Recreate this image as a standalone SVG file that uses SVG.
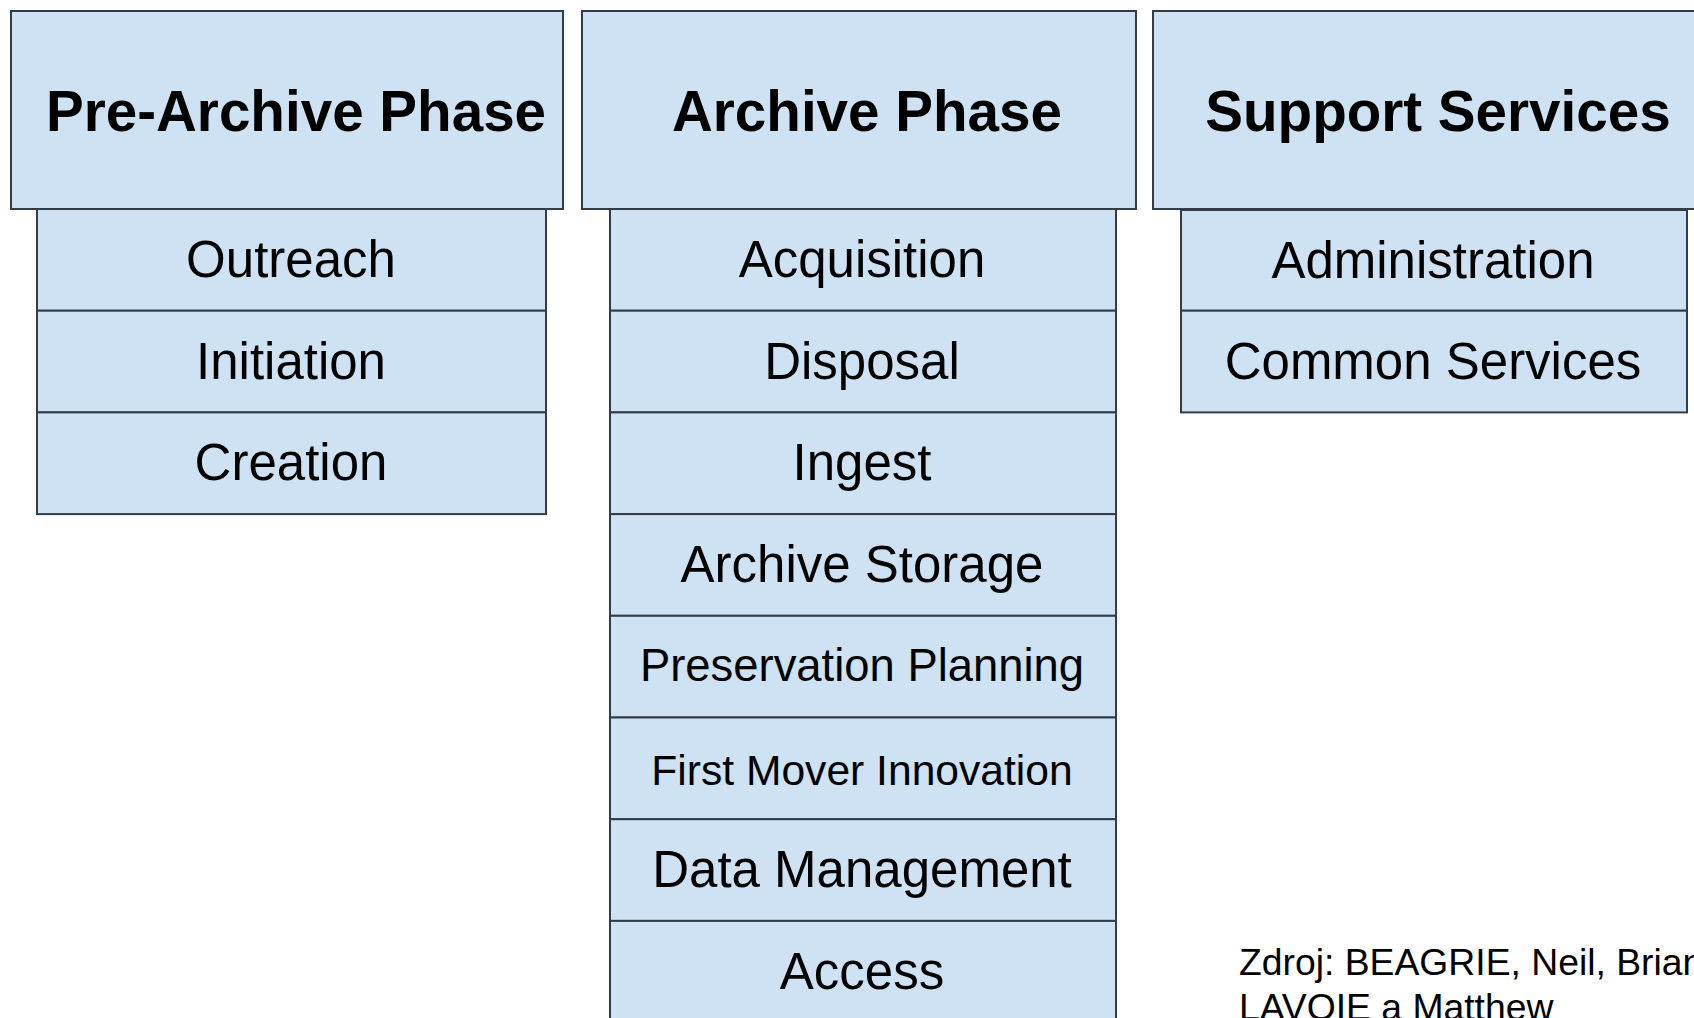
<svg xmlns="http://www.w3.org/2000/svg" width="1694" height="1018" viewBox="0 0 1694 1018">
<style>
.box{fill:#cfe2f3;stroke:#333d47;stroke-width:2}
.h{font-family:"Liberation Sans",Arial,sans-serif;font-weight:bold;font-size:56.6px;fill:#000;text-anchor:middle}
.t{font-family:"Liberation Sans",Arial,sans-serif;font-size:51px;fill:#000;text-anchor:middle}
.n{font-family:"Liberation Sans",Arial,sans-serif;font-size:37.3px;fill:#000}
</style>
<rect width="1694" height="1018" fill="#fff"/>
<g id="pre-archive">
<g id="pre-header"><rect class="box" x="11" y="11" width="552" height="198"/><text class="h" x="296" y="131">Pre-Archive Phase</text></g>
<g id="outreach"><rect class="box" x="37" y="209" width="509" height="101.7"/><text class="t" x="291" y="277">Outreach</text></g>
<g id="initiation"><rect class="box" x="37" y="310.7" width="509" height="101.7"/><text class="t" x="291" y="378.7">Initiation</text></g>
<g id="creation"><rect class="box" x="37" y="412.4" width="509" height="101.7"/><text class="t" x="291" y="480.4">Creation</text></g>
</g>
<g id="archive">
<g id="archive-header"><rect class="box" x="582" y="11" width="554" height="198"/><text class="h" x="867" y="131">Archive Phase</text></g>
<g id="acquisition"><rect class="box" x="610" y="209" width="506" height="101.7"/><text class="t" x="862" y="277">Acquisition</text></g>
<g id="disposal"><rect class="box" x="610" y="310.7" width="506" height="101.7"/><text class="t" x="862" y="378.7">Disposal</text></g>
<g id="ingest"><rect class="box" x="610" y="412.4" width="506" height="101.7"/><text class="t" x="862" y="480.4">Ingest</text></g>
<g id="archive-storage"><rect class="box" x="610" y="514.1" width="506" height="101.7"/><text class="t" x="862" y="582.1">Archive Storage</text></g>
<g id="preservation-planning"><rect class="box" x="610" y="615.8" width="506" height="101.7"/><text class="t" x="862" y="681" style="font-size:45.4px">Preservation Planning</text></g>
<g id="first-mover"><rect class="box" x="610" y="717.5" width="506" height="101.7"/><text class="t" x="862" y="785" style="font-size:42.6px">First Mover Innovation</text></g>
<g id="data-management"><rect class="box" x="610" y="819.2" width="506" height="101.7"/><text class="t" x="862" y="887.2">Data Management</text></g>
<g id="access"><rect class="box" x="610" y="920.9" width="506" height="101.7"/><text class="t" x="862" y="988.9">Access</text></g>
</g>
<g id="support">
<g id="support-header"><rect class="box" x="1153" y="11" width="554" height="198"/><text class="h" x="1438" y="131">Support Services</text></g>
<g id="administration"><rect class="box" x="1181" y="210" width="506" height="100.7"/><text class="t" x="1433" y="278">Administration</text></g>
<g id="common-services"><rect class="box" x="1181" y="310.7" width="506" height="101.7"/><text class="t" x="1433" y="378.7">Common Services</text></g>
</g>
<g id="connectors"/>
<g id="source-note">
<text class="n" x="1239" y="975">Zdroj: BEAGRIE, Neil, Brian</text>
<text class="n" x="1239" y="1020">LAVOIE a Matthew</text>
</g>
</svg>
